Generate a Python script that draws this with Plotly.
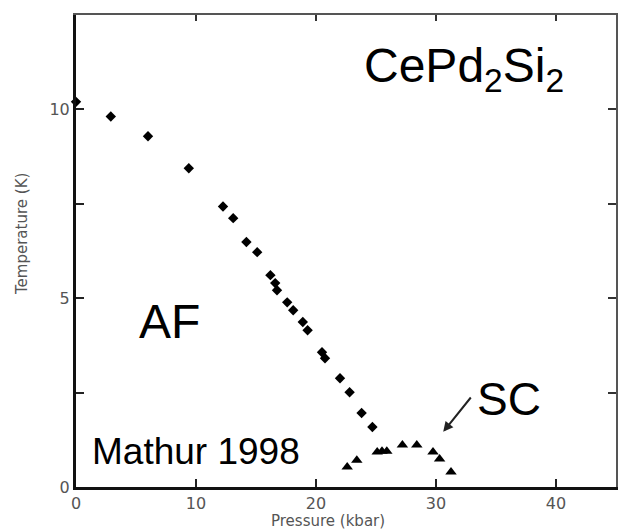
import plotly.graph_objects as go

# AF transition (pressure kbar, temperature K)
af_p = [0.0, 2.9, 6.0, 9.4, 12.25, 13.1, 14.2, 15.1, 16.2, 16.6, 16.75, 17.6, 18.1,
        18.9, 19.3, 20.5, 20.75, 22.0, 22.8, 23.8, 24.7]
af_t = [10.2, 9.81, 9.29, 8.44, 7.43, 7.12, 6.49, 6.22, 5.61, 5.40, 5.21, 4.89, 4.68,
        4.37, 4.15, 3.57, 3.41, 2.88, 2.51, 1.96, 1.59]

# SC transition
sc_p = [22.6, 23.4, 25.1, 25.5, 25.9, 27.2, 28.4, 29.75, 30.3, 31.25]
sc_t = [0.53, 0.71, 0.93, 0.95, 0.95, 1.11, 1.11, 0.93, 0.74, 0.40]

x_ticks = [0, 10, 20, 30, 40]
y_ticks = [0, 5, 10]
y_minor = [2.5, 7.5]

TXT = "Liberation Sans, Arial, sans-serif"
TICKF = dict(family="DejaVu Sans, sans-serif", size=16, color="#555")
TITLEF = dict(family="DejaVu Sans, sans-serif", size=15, color="#555")

W, H = 618, 532
l, r, t, b = 76, 2, 15, 45
pw, ph = W - l - r, H - t - b

fig = go.Figure()
fig.add_trace(go.Scatter(x=af_p, y=af_t, mode="markers", cliponaxis=False,
                         marker=dict(symbol="diamond", size=8, color="black"),
                         showlegend=False))
fig.add_trace(go.Scatter(x=sc_p, y=sc_t, mode="markers", cliponaxis=False,
                         marker=dict(symbol="triangle-up", size=10, color="black"),
                         showlegend=False))
# invisible trace to activate secondary axes
fig.add_trace(go.Scatter(x=[None], y=[None], xaxis="x2", yaxis="y2", showlegend=False))

fig.update_layout(
    width=W, height=H,
    margin=dict(l=l, r=r, t=t, b=b),
    plot_bgcolor="white", paper_bgcolor="white",
    xaxis=dict(range=[0, 45], tickvals=x_ticks, ticks="inside", ticklen=8, tickwidth=2,
               tickcolor="#222", showline=True, linewidth=3, linecolor="#111",
               showgrid=False, zeroline=False, tickfont=TICKF),
    yaxis=dict(range=[0, 12.5], tickvals=y_ticks, ticks="inside",
               ticklen=8, tickwidth=2, tickcolor="#222", showline=True, linewidth=3,
               linecolor="#111", showgrid=False, zeroline=False, tickfont=TICKF,
               minor=dict(tickvals=y_minor, ticks="inside", ticklen=8, tickwidth=2,
                          tickcolor="#222", showgrid=False)),
    xaxis2=dict(range=[0, 45], overlaying="x", side="top", tickvals=x_ticks,
                ticks="inside", ticklen=6, tickwidth=2, tickcolor="#333",
                showticklabels=False, showline=True, linewidth=1.5, linecolor="#555",
                showgrid=False, zeroline=False),
    yaxis2=dict(range=[0, 12.5], overlaying="y", side="right", tickvals=y_ticks + y_minor,
                ticks="inside", ticklen=8, tickwidth=1.5, tickcolor="#333",
                showticklabels=False, showline=True, linewidth=1.5, linecolor="#555",
                showgrid=False, zeroline=False),
)

ann = [
    dict(text="CePd<sub>2</sub>Si<sub>2</sub>", x=32.3, y=11.08, size=48),
    dict(text="AF", x=7.8, y=4.39, size=48),
    dict(text="SC", x=36.1, y=2.33, size=46),
    dict(text="Mathur 1998", x=10.0, y=0.95, size=37),
]
for a in ann:
    fig.add_annotation(text=a["text"], x=a["x"], y=a["y"], xref="x", yref="y",
                       showarrow=False, xanchor="center", yanchor="middle",
                       font=dict(family=TXT, size=a["size"], color="black"))

fig.add_annotation(x=30.6, y=1.46, ax=33.0, ay=2.41, xref="x", yref="y", axref="x", ayref="y",
                   text="", showarrow=True, arrowhead=2, arrowsize=1, arrowwidth=2,
                   arrowcolor="#222")

fig.add_annotation(text="Pressure (kbar)", x=(328 - l) / pw, y=(H - 521 - b) / ph,
                   xref="paper", yref="paper", xanchor="center", yanchor="middle",
                   showarrow=False, font=TITLEF)
fig.add_annotation(text="Temperature (K)", x=(22 - l) / pw, y=(H - 234 - b) / ph,
                   xref="paper", yref="paper", xanchor="center", yanchor="middle",
                   textangle=-90, showarrow=False, font=TITLEF)

fig.write_html("out.html")
